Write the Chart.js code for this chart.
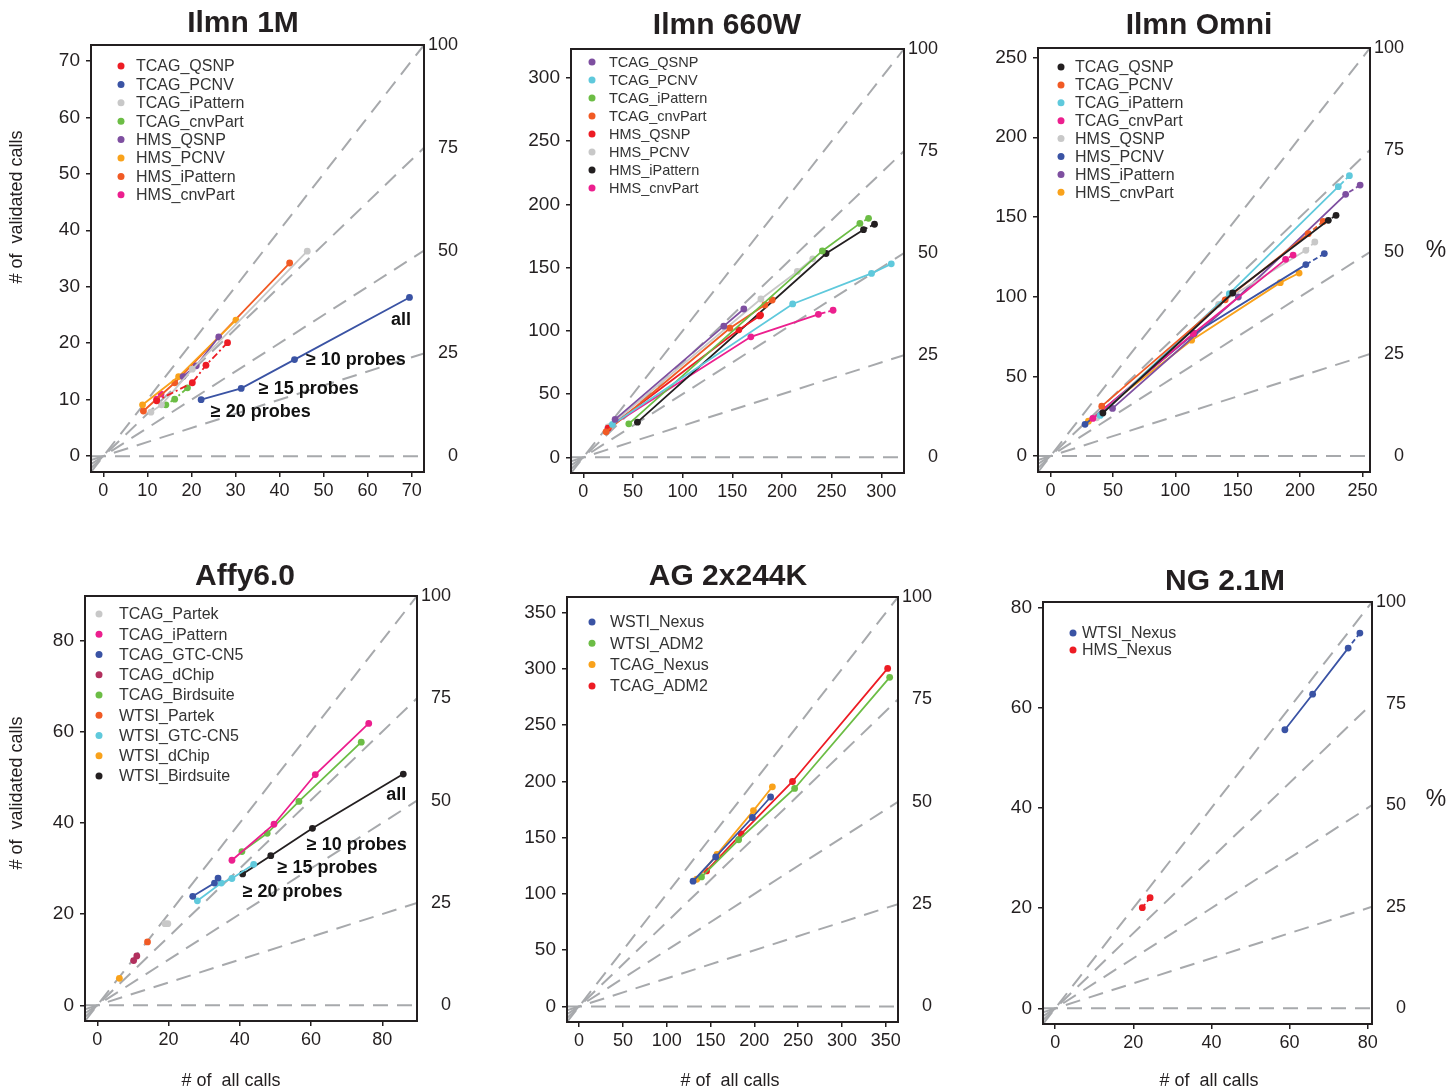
<!DOCTYPE html>
<html>
<head>
<meta charset="utf-8">
<title>Validated calls vs all calls</title>
<script src="https://cdn.jsdelivr.net/npm/chart.js@4.4.1/dist/chart.umd.min.js"></script>
<style>
    html, body { margin: 0; padding: 0; background: #fff; }
    #wrap { position: relative; width: 1446px; height: 1089px; overflow: hidden; }
    #wrap canvas { position: absolute; left: 0; top: 0; }
</style>
</head>
<body>
<div id="wrap">
    <canvas id="c1" width="1446" height="1089"></canvas>
    <canvas id="c2" width="1446" height="1089"></canvas>
    <canvas id="c3" width="1446" height="1089"></canvas>
    <canvas id="c4" width="1446" height="1089"></canvas>
    <canvas id="c5" width="1446" height="1089"></canvas>
    <canvas id="c6" width="1446" height="1089"></canvas>
</div>
<script>
/* Validated calls vs all calls, six platforms */

const PCT_TICKS = [0, 25, 50, 75, 100];
const REF_SLOPES = [1, 0.75, 0.5, 0.25, 0];

// points run: all calls, >= 10 probes, >= 15 probes, >= 20 probes
const ilmn1mNames = ["TCAG_QSNP", "TCAG_PCNV", "TCAG_iPattern", "TCAG_cnvPart", "HMS_QSNP", "HMS_PCNV", "HMS_iPattern", "HMS_cnvPart"];
const ilmn1mX = [[28.2, 23.3, 20.2, 12.1], [69.5, 43.4, 31.3, 22.2], [46.3, 20.2, 13.2, 10.8], [19.1, 16.2, 14.2],
                 [26.2, 21.1, 18.1], [30.1, 17.1, 8.9], [42.3, 16.2, 9.1], [13.1, 12.1]];
const ilmn1mY = [[20.1, 16.1, 13.0, 9.8], [28.1, 17.1, 12.0, 10.0], [36.3, 15.4, 9.1, 7.8], [12.1, 10.1, 9.1],
                 [21.1, 16.0, 14.1], [24.1, 14.1, 9.1], [34.2, 13.0, 8.0], [11.0, 10.1]];
const ilmn1mTicks = [0, 10, 20, 30, 40, 50, 60, 70];

const ilmn660Names = ["TCAG_QSNP", "TCAG_PCNV", "TCAG_iPattern", "TCAG_cnvPart", "HMS_QSNP", "HMS_PCNV", "HMS_iPattern", "HMS_cnvPart"];
const ilmn660X = [[161.6, 141.4, 32], [310.1, 290.2, 210.8, 29.3], [287.2, 278.5, 240.7, 45.8], [190.2, 182.8, 147.5, 22.9],
                  [178.5, 177.5, 156.6, 25], [231, 215.5, 178.8, 25], [293.2, 282.1, 244.4, 54.5], [251.5, 236.7, 168.7, 25]];
const ilmn660Y = [[117.3, 103.7, 30], [153, 145.4, 121.3, 26], [189, 185, 163.2, 26.5], [124.4, 120.5, 102.1, 20.2],
                  [112.5, 111.8, 100.8, 23], [157, 147, 125.2, 24], [184.3, 180, 161.2, 27.8], [116.3, 113.1, 95.3, 23.4]];
const ilmn660Ticks = [0, 50, 100, 150, 200, 250, 300];

const omniNames = ["TCAG_QSNP", "TCAG_PCNV", "TCAG_iPattern", "TCAG_cnvPart", "HMS_QSNP", "HMS_PCNV", "HMS_iPattern", "HMS_cnvPart"];
const omniX = [[228.8, 222.6, 146, 42], [218.5, 206.5, 140, 41.1], [239.5, 230.6, 143.3, 39.8], [194.4, 188.4, 114.5, 33.9],
               [211.8, 204.6, 134.7, 37], [219.4, 204.6, 115.1, 27.7], [248.1, 236.5, 150.5, 49.7], [199.2, 184.1, 113.1, 30.4]];
const omniY = [[151, 147.9, 102.3, 27], [147.2, 139.5, 98, 31.3], [175.9, 169, 101.9, 25.5], [126.1, 123.4, 76.9, 23.6],
               [134.3, 129.1, 95.2, 24], [127, 120.1, 76.9, 19.9], [170, 164.2, 99.8, 29.9], [114.8, 108.8, 72.7, 21.9]];
const omniTicks = [0, 50, 100, 150, 200, 250];

const affyNames = ["TCAG_Partek", "TCAG_iPattern", "TCAG_GTC-CN5", "TCAG_dChip", "TCAG_Birdsuite", "WTSI_Partek", "WTSI_GTC-CN5", "WTSI_dChip", "WTSI_Birdsuite"];
const affyX = [[19.8, 19], [76.2, 61.2, 49.6, 37.8], [33.9, 32.9, 26.8], [11.1, 10.2], [74.1, 56.6, 47.7, 40.6],
               [14.1], [43.9, 37.8, 34.8, 28.1], [6.2], [85.9, 60.4, 48.7, 40.8]];
const affyY = [[17.9, 17.9], [61.8, 50.6, 39.7, 31.8], [27.9, 26.8, 23.9], [10.8, 9.8], [57.7, 44.7, 37.7, 33.7],
               [13.9], [30.9, 27.8, 26.8, 22.9], [5.9], [50.7, 38.8, 32.8, 28.8]];
const affyTicks = [0, 20, 40, 60, 80];

const agNames = ["WSTI_Nexus", "WTSI_ADM2", "TCAG_Nexus", "TCAG_ADM2"];
const agX = [[218.6, 197.8, 155.9, 130.1], [354.5, 246, 182.1, 139.7], [220.6, 199, 157.4, 134.3], [352.2, 243.6, 185.1, 145.5]];
const agY = [[186.2, 168, 132.9, 111.4], [292.6, 193.8, 148.2, 115.2], [195.3, 174.1, 135.2, 113.1], [300.5, 200, 153.5, 120.5]];
const agTicks = [0, 50, 100, 150, 200, 250, 300, 350];

const ngNames = ["WTSI_Nexus", "HMS_Nexus"];
const ngX = [[78, 75, 65.9, 58.8], [24.3, 22.3]];
const ngY = [[74.9, 71.9, 62.7, 55.6], [22.1, 20.1]];
const ngTicks = [0, 20, 40, 60, 80];

const probeNotes = ["all", "\u2265 10 probes", "\u2265 15 probes", "\u2265 20 probes"];

const C = {
    red: "#ed1c24", blue: "#3a53a4", gray: "#c8c8c8", green: "#6cbd45", purple: "#7e4fa0",
    orange: "#f9a21b", orangeRed: "#f15a24", pink: "#ec1f8e", cyan: "#5fc9dc", black: "#231f20", maroon: "#b2305e"
};
const FONT = "'Liberation Sans', Arial, Helvetica, sans-serif";
const INK = "#231f20";

// line styles: "dd" dash-dot whole line, "d1" dashed first segment
const panels = [
    {
        id: "c1", title: "Ilmn 1M", titleAt: [243, 32], names: ilmn1mNames, xs: ilmn1mX, ys: ilmn1mY, ticks: ilmn1mTicks,
        colors: [C.red, C.blue, C.gray, C.green, C.purple, C.orange, C.orangeRed, C.pink],
        styles: ["dd", "", "", "dd", "", "", "", "d1"],
        min: -2.8, max: 72.8, box: [91, 45, 424, 472],
        legend: { dotX: 121, textX: 136, y0: 66, dy: 18.4, size: 16 },
        yTitle: [17, 207],
        notes: [[67.6, 24.1, "center"], [46.0, 17.0, "left"], [35.3, 11.9, "left"], [24.4, 7.8, "left"]]
    },
    {
        id: "c2", title: "Ilmn 660W", titleAt: [727, 34], names: ilmn660Names, xs: ilmn660X, ys: ilmn660Y, ticks: ilmn660Ticks,
        colors: [C.purple, C.cyan, C.green, C.orangeRed, C.red, C.gray, C.black, C.pink],
        styles: ["", "", "d1", "", "d1", "", "d1", "d1"],
        min: -12.4, max: 322.9, box: [571, 49, 904, 473],
        legend: { dotX: 592, textX: 609, y0: 62, dy: 18, size: 14.5 }
    },
    {
        id: "c3", title: "Ilmn Omni", titleAt: [1199, 34], names: omniNames, xs: omniX, ys: omniY, ticks: omniTicks,
        colors: [C.black, C.orangeRed, C.cyan, C.pink, C.gray, C.blue, C.purple, C.orange],
        styles: ["d1", "d1", "d1", "d1", "d1", "d1", "d1", ""],
        min: -10, max: 256, box: [1038, 48, 1370, 472],
        legend: { dotX: 1061, textX: 1075, y0: 67, dy: 17.9, size: 16 },
        pctSign: [1436, 251]
    },
    {
        id: "c4", title: "Affy6.0", titleAt: [245, 585], names: affyNames, xs: affyX, ys: affyY, ticks: affyTicks,
        colors: [C.gray, C.pink, C.blue, C.maroon, C.green, C.orangeRed, C.cyan, C.orange, C.black],
        styles: [],
        min: -3.45, max: 89.75, box: [85, 596, 417, 1021],
        legend: { dotX: 99, textX: 119, y0: 614, dy: 20.25, size: 16 },
        yTitle: [17, 793], xTitle: [231, 1081],
        notes: [[83.9, 46.1, "center"], [58.8, 35.2, "left"], [50.6, 30.2, "left"], [40.8, 24.9, "left"]]
    },
    {
        id: "c5", title: "AG 2x244K", titleAt: [728, 585], names: agNames, xs: agX, ys: agY, ticks: agTicks,
        colors: [C.blue, C.green, C.orange, C.red],
        styles: [],
        min: -13.8, max: 364, box: [567, 597, 898, 1022],
        legend: { dotX: 592, textX: 610, y0: 622, dy: 21.3, size: 16 },
        xTitle: [730, 1081]
    },
    {
        id: "c6", title: "NG 2.1M", titleAt: [1225, 590], names: ngNames, xs: ngX, ys: ngY, ticks: ngTicks,
        colors: [C.blue, C.red],
        styles: ["d1", "d1"],
        min: -3.12, max: 81.1, box: [1043, 602, 1372, 1024],
        legend: { dotX: 1073, textX: 1082, y0: 633, dy: 17, size: 16 },
        xTitle: [1209, 1081], pctSign: [1436, 800]
    }
];

const panelDecor = {
    id: "panelDecor",
    afterDatasetsDraw(chart, args, p) {
        const { ctx, chartArea: a, scales } = chart;
        ctx.save();

        ctx.strokeStyle = INK;
        ctx.lineWidth = 2;
        ctx.strokeRect(a.left, a.top, a.right - a.left, a.bottom - a.top);

        // legend
        const lg = p.legend;
        ctx.textAlign = "left";
        ctx.textBaseline = "middle";
        ctx.font = `${lg.size}px ${FONT}`;
        chart.data.datasets.filter(d => !d.isRef).forEach((d, i) => {
            const y = lg.y0 + i * lg.dy;
            ctx.fillStyle = d.borderColor;
            ctx.beginPath();
            ctx.arc(lg.dotX, y, 3.5, 0, Math.PI * 2);
            ctx.fill();
            ctx.fillStyle = "#333";
            ctx.fillText(d.label, lg.textX, y + 1);
        });

        // probe-count notes
        if (p.notes) {
            ctx.font = `bold 18px ${FONT}`;
            ctx.fillStyle = "#111";
            p.notes.forEach(([x, y, align], i) => {
                ctx.textAlign = align;
                ctx.fillText(probeNotes[i], scales.x.getPixelForValue(x), scales.y.getPixelForValue(y));
            });
        }

        ctx.fillStyle = INK;
        ctx.textBaseline = "alphabetic";
        ctx.textAlign = "center";
        ctx.font = `bold 30px ${FONT}`;
        ctx.fillText(p.title, p.titleAt[0], p.titleAt[1]);

        ctx.font = `18px ${FONT}`;
        ctx.textBaseline = "middle";
        if (p.xTitle) ctx.fillText("# of  all calls", p.xTitle[0], p.xTitle[1]);
        if (p.yTitle) {
            ctx.save();
            ctx.translate(p.yTitle[0], p.yTitle[1]);
            ctx.rotate(-Math.PI / 2);
            ctx.fillText("# of  validated calls", 0, 0);
            ctx.restore();
        }
        if (p.pctSign) {
            ctx.font = `23px ${FONT}`;
            ctx.fillText("%", p.pctSign[0], p.pctSign[1]);
        }
        ctx.restore();
    }
};

function axisTicks(values) {
    return scale => { scale.ticks = values.map(v => ({ value: v })); };
}

function lineStyle(kind) {
    if (kind === "dd") return { borderDash: [7, 3, 2, 3] };
    if (kind === "d1") return { segment: { borderDash: c => (c.p0DataIndex === 0 ? [5, 3] : undefined) } };
    return {};
}

function makeChart(p) {
    const [bl, bt, br, bb] = p.box;
    const datasets = [];

    REF_SLOPES.forEach(s => datasets.push({
        isRef: true,
        data: [{ x: p.min, y: s * p.min }, { x: p.max, y: s * p.max }],
        showLine: true,
        borderColor: "#a7a9ac",
        borderWidth: 2,
        borderDash: [15, 9],
        pointRadius: 0,
        order: 10
    }));

    p.names.forEach((name, i) => datasets.push({
        label: name,
        data: p.xs[i].map((x, j) => ({ x: x, y: p.ys[i][j] })),
        showLine: true,
        borderColor: p.colors[i],
        backgroundColor: p.colors[i],
        borderWidth: 1.8,
        pointRadius: 3.4,
        pointBorderWidth: 0,
        order: 0,
        ...lineStyle(p.styles[i])
    }));

    const tickMarks = { drawOnChartArea: false, drawTicks: true, tickLength: 5, color: INK, lineWidth: 1.5 };

    return new Chart(document.getElementById(p.id), {
        type: "scatter",
        data: { datasets },
        options: {
            responsive: false,
            animation: false,
            events: [],
            layout: { padding: { left: bl - 60, top: bt, right: 1446 - br - 34, bottom: 1089 - bb - 36 } },
            plugins: { legend: { display: false }, tooltip: { enabled: false }, panelDecor: p },
            scales: {
                x: {
                    type: "linear", min: p.min, max: p.max,
                    afterBuildTicks: axisTicks(p.ticks),
                    afterFit: s => { s.height = 36; },
                    grid: tickMarks, border: { display: false },
                    ticks: { font: { family: FONT, size: 18 }, color: INK, padding: 3, maxRotation: 0, autoSkip: false }
                },
                y: {
                    type: "linear", position: "left", min: p.min, max: p.max,
                    afterBuildTicks: axisTicks(p.ticks),
                    afterFit: s => { s.width = 60; },
                    grid: tickMarks, border: { display: false },
                    ticks: { font: { family: FONT, size: 19 }, color: INK, padding: 6, autoSkip: false }
                },
                pct: {
                    type: "linear", position: "right", axis: "y",
                    min: p.min / p.max * 100, max: 100,
                    afterBuildTicks: axisTicks(PCT_TICKS),
                    afterFit: s => { s.width = 34; },
                    grid: { display: false }, border: { display: false },
                    ticks: { font: { family: FONT, size: 18 }, color: INK, crossAlign: "far", autoSkip: false }
                }
            }
        },
        plugins: [panelDecor]
    });
}

panels.forEach(makeChart);
</script>
</body>
</html>
